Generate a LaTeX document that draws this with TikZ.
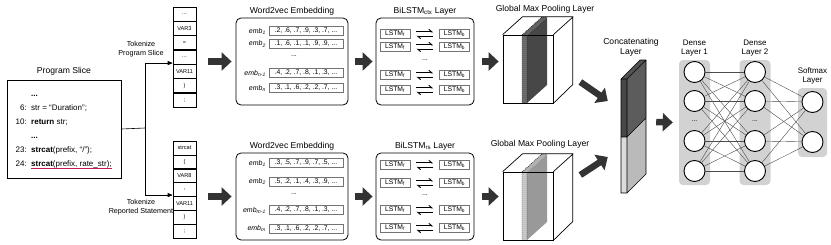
\documentclass[tikz,border=0pt]{standalone}
\usepackage{fontspec}
\setmainfont{Liberation Sans}
\usepackage{tikz}
\usetikzlibrary{arrows.meta,positioning}
\definecolor{fatgray}{HTML}{333333}
\definecolor{underred}{HTML}{C8185A}
\definecolor{layergray}{HTML}{D2D2D2}
\newcommand{\emblab}[1]{\textit{emb}\textsubscript{\textit{#1}}}
\newcommand{\tdots}{...}

\begin{document}
\begin{tikzpicture}[x=1pt,y=-1pt,
  title/.style={font=\fontsize{8.6}{10}\selectfont,align=center,inner sep=0pt},
  subtitle/.style={font=\fontsize{7.2}{8.6}\selectfont,align=center,inner sep=0pt},
  codetext/.style={font=\fontsize{8}{9}\selectfont,inner sep=0pt},
  small/.style={font=\fontsize{7}{8}\selectfont,inner sep=0pt},
  token/.style={draw,line width=0.6pt,minimum width=23pt,minimum height=14pt,inner sep=0pt,font=\fontsize{5.6}{6}\selectfont},
  panel/.style={draw,line width=0.8pt,rounded corners=5pt,inner sep=0pt},
  vecbox/.style={draw=black!55,line width=0.9pt,minimum width=74pt,minimum height=9pt,inner sep=0pt,font=\fontsize{6.8}{7}\selectfont},
  lstmbox/.style={draw=black!55,line width=0.9pt,minimum width=30pt,minimum height=9pt,inner sep=0pt,font=\fontsize{6.8}{7}\selectfont},
  harp/.style={line width=0.9pt,-{Straight Barb[left,length=3pt,width=5pt]}},
  fat/.style={fatgray,line width=6.5pt,-{Triangle[length=10pt,width=18pt]}},
  thin/.style={line width=0.6pt,-{Triangle[length=5pt,width=4pt]}},
  slabedge/.style={line width=0.45pt,dash pattern=on 1pt off 1pt},
  neuron/.style={draw,circle,line width=0.9pt,fill=white,minimum size=21pt,inner sep=0pt},
  layerbg/.style={fill=layergray,rounded corners=4pt,inner sep=0pt},
  link/.style={black!70,line width=0.4pt},
]
\useasboundingbox (0,0) rectangle (831,244);

% program slice
\node[title] (slicetitle) at (64,71) {Program Slice};
\node[draw,line width=0.9pt,minimum width=114pt,minimum height=98pt,inner sep=0pt] (slice) at (64,129) {};
\node[codetext,anchor=base west] (l0) at (31,96) {\textbf{...}};
\node[codetext,anchor=base east] (n1) at (27,110) {6:};
\node[codetext,anchor=base west] (l1) at (31,110) {str = “Duration”;};
\node[codetext,anchor=base east] (n2) at (27,124) {10:};
\node[codetext,anchor=base west] (l2) at (31,124) {\textbf{return} str;};
\node[codetext,anchor=base west] (l3) at (31,138) {\textbf{...}};
\node[codetext,anchor=base east] (n4) at (27,152) {23:};
\node[codetext,anchor=base west] (l4) at (31,152) {\textbf{strcat}(prefix, “/”);};
\node[codetext,anchor=base east] (n5) at (27,166) {24:};
\node[codetext,anchor=base west] (l5) at (31,166) {\textbf{strcat}(prefix, rate\_str);};
\draw[underred,line width=0.8pt] ([yshift=-2.5pt]l5.base west) -- ([yshift=-2.5pt]l5.base east);

% token columns
\foreach \t [count=\i] in {\tdots,VAR3,=,\tdots,VAR11,{)},;}
  \node[token] (a\i) at (184.5,{7+(\i-0.5)*14.3}) {\t};
\foreach \t [count=\i] in {strcat,{(},VAR8,{,},VAR11,{)},;}
  \node[token] (b\i) at (184.5,{141+(\i-0.5)*13.9}) {\t};
\coordinate (fork) at (145,128);
\draw[line width=0.6pt] (slice.east) -- (fork);
\draw[thin] (fork) |- ([yshift=-6pt]a4.west);
\draw[thin] (fork) |- ([yshift=-5.4pt]b4.west);
\node[subtitle] (tokA) at (141,49) {Tokenize\\Program Slice};
\node[subtitle] (tokB) at (141,207) {Tokenize\\Reported Statement};

% word2vec embedding
\node[panel,minimum width=112pt,minimum height=87pt] (embA) at (292,61.5) {};
\node[title,above=2pt of embA] (embAtitle) {Word2vec Embedding};
\foreach \y/\lab/\vals in {31/1/{.2, .6, .7, .9, .3, .7, \tdots},44/2/{.1, .6, .1, .1, .9, .9, \tdots},73/{n-1}/{.4, .2, .7, .8, .1, .3, \tdots},88/n/{.3, .1, .6, .2, .2, .7, \tdots}} {
  \node[small,anchor=east] at (266,\y) {\emblab{\lab}};
  \node[vecbox] at (306,\y) {\vals};
}
\node[small] (embAdots) at (294,56) {\tdots};

\node[panel,minimum width=112pt,minimum height=87pt] (embB) at (292,196.5) {};
\node[title,above=2pt of embB] (embBtitle) {Word2vec Embedding};
\foreach \y/\lab/\vals in {163/1/{.3, .5, .7, .9, .7, .5, \tdots},181.5/2/{.5, .2, .1, .4, .3, .9, \tdots},210/{m-1}/{.4, .2, .7, .8, .1, .3, \tdots},228.5/m/{.3, .1, .6, .2, .2, .7, \tdots}} {
  \node[small,anchor=east] at (266,\y) {\emblab{\lab}};
  \node[vecbox] at (306,\y) {\vals};
}
\node[small] (embBdots) at (294,194) {\tdots};

% BiLSTM layers
\node[panel,minimum width=98pt,minimum height=87pt] (lstmA) at (425,61.5) {};
\node[title,above=2pt of lstmA] (lstmAtitle) {BiLSTM\textsubscript{ctx} Layer};
\foreach \y [count=\i] in {34,47,75,90} {
  \node[lstmbox] (fA\i) at (395,\y) {LSTM\textsubscript{f}};
  \node[lstmbox] (bA\i) at (454.5,\y) {LSTM\textsubscript{b}};
  \draw[harp] ([shift={(6,-2.2)}]fA\i.east) -- ([shift={(-6,-2.2)}]bA\i.west);
  \draw[harp] ([shift={(-6,2.2)}]bA\i.west) -- ([shift={(6,2.2)}]fA\i.east);
}
\node[small] (lstmAdots) at (425,60) {\tdots};

\node[panel,minimum width=98pt,minimum height=87pt] (lstmB) at (425,196.5) {};
\node[title,above=2pt of lstmB] (lstmBtitle) {BiLSTM\textsubscript{rs} Layer};
\foreach \y [count=\i] in {165,183,210,228} {
  \node[lstmbox] (fB\i) at (395,\y) {LSTM\textsubscript{f}};
  \node[lstmbox] (bB\i) at (454.5,\y) {LSTM\textsubscript{b}};
  \draw[harp] ([shift={(6,-2.2)}]fB\i.east) -- ([shift={(-6,-2.2)}]bB\i.west);
  \draw[harp] ([shift={(-6,2.2)}]bB\i.west) -- ([shift={(6,2.2)}]fB\i.east);
}
\node[small] (lstmBdots) at (425,195) {\tdots};

% global max pooling
\fill[black!72] (527,35) -- (547,17) -- (547,85) -- (527,103) -- cycle;
\fill[black!58] (522,35) -- (527,35) -- (527,103) -- (522,103) -- cycle;
\fill[black!62] (522,35) -- (542,17) -- (547,17) -- (527,35) -- cycle;
\draw[slabedge] (522,35) -- (522,103) (527,35) -- (527,103) (522,35) -- (542,17) -- (547,17);
\node[draw,line width=0.7pt,minimum width=50pt,minimum height=68pt,inner sep=0pt] (poolA) at (528,69) {};
\draw[line width=0.7pt] (poolA.north west) -- ++(20,-18) -- ++(50,0) -- ++(0,68) -- (poolA.south east)
  (poolA.north east) -- ++(20,-18);
\node[title] (poolAtitle) at (545,9) {Global Max Pooling Layer};

\fill[black!40] (527,172) -- (547,154) -- (547,222) -- (527,240) -- cycle;
\fill[black!22] (522,172) -- (527,172) -- (527,240) -- (522,240) -- cycle;
\fill[black!30] (522,172) -- (542,154) -- (547,154) -- (527,172) -- cycle;
\draw[slabedge] (522,172) -- (522,240) (527,172) -- (527,240) (522,172) -- (542,154) -- (547,154);
\node[draw,line width=0.7pt,minimum width=50pt,minimum height=68pt,inner sep=0pt] (poolB) at (528,206) {};
\draw[line width=0.7pt] (poolB.north west) -- ++(20,-18) -- ++(50,0) -- ++(0,68) -- (poolB.south east)
  (poolB.north east) -- ++(20,-18);
\node[title] (poolBtitle) at (540,144) {Global Max Pooling Layer};

% concatenating layer
\node[inner sep=0pt,minimum width=6pt,minimum height=114pt] (concat) at (624,136) {};
\fill[black!72] (621,79) -- (627,79) -- (627,137) -- (621,137) -- cycle;
\fill[black!64] (627,79) -- (646,60) -- (646,118) -- (627,137) -- cycle;
\fill[black!68] (621,79) -- (640,60) -- (646,60) -- (627,79) -- cycle;
\fill[black!14] (621,137) -- (627,137) -- (627,193) -- (621,193) -- cycle;
\fill[black!27] (627,137) -- (646,118) -- (646,174) -- (627,193) -- cycle;
\draw[line width=0.6pt] (621,79) -- (640,60) -- (646,60) -- (646,174) -- (627,193) -- (621,193) -- cycle
  (627,79) -- (646,60) (627,79) -- (621,79) (627,79) -- (627,193) (621,137) -- (627,137) -- (646,118);
\node[title] (concattitle) at (631,47) {Concatenating\\Layer};

% dense layers
\node[layerbg,minimum width=31pt,minimum height=125pt] (dense1) at (694.5,122.5) {};
\node[layerbg,minimum width=31pt,minimum height=125pt] (dense2) at (755,122.5) {};
\node[layerbg,minimum width=29pt,minimum height=69pt] (soft) at (812.5,122.5) {};
\node[title,font=\fontsize{8}{9.6}\selectfont,above=3pt of dense1] (dense1title) {Dense\\Layer 1};
\node[title,font=\fontsize{8}{9.6}\selectfont,above=3pt of dense2] (dense2title) {Dense\\Layer 2};
\node[title,font=\fontsize{8}{9.6}\selectfont,above=3pt of soft] (softtitle) {Softmax\\Layer};
\foreach \y [count=\i] in {72,101,141,171} {
  \node[neuron] (d1n\i) at (694.5,\y) {};
  \node[neuron] (d2n\i) at (755,\y) {};
}
\node[neuron] (s1) at (812.5,102) {};
\node[neuron] (s2) at (812.5,142) {};
\node[small] (d1dots) at (694.5,121) {\tdots};
\node[small] (d2dots) at (755,121) {\tdots};
\foreach \i in {1,2,3,4} {
  \foreach \j in {1,2,3,4}
    \draw[link] (d1n\i) -- (d2n\j);
  \draw[link] (d2n\i) -- (s1);
  \draw[link] (d2n\i) -- (s2);
}

% fat arrows
\draw[fat,shorten <=12pt,shorten >=4pt] (a4.east |- embA.west) -- (embA.west);
\draw[fat,shorten <=12pt,shorten >=4pt] (b4.east |- embB.west) -- (embB.west);
\draw[fat,shorten <=7pt,shorten >=3pt] (embA.east) -- (lstmA.west);
\draw[fat,shorten <=7pt,shorten >=3pt] (embB.east) -- (lstmB.west);
\draw[fat,shorten <=8pt,shorten >=4pt] (lstmA.east) -- (lstmA.east -| poolA.west);
\draw[fat,shorten <=8pt,shorten >=4pt] (lstmB.east) -- (lstmB.east -| poolB.west);
\draw[fat] ([shift={(27,13)}]poolA.east) -- ([shift={(-13,-35)}]concat.west);
\draw[fat] ([shift={(27,-31)}]poolB.east) -- ([shift={(-13,21)}]concat.west);
\draw[fat] ([shift={(29,-14)}]concat.east) -- ([xshift=-6pt]dense1.west);
\end{tikzpicture}
\end{document}
